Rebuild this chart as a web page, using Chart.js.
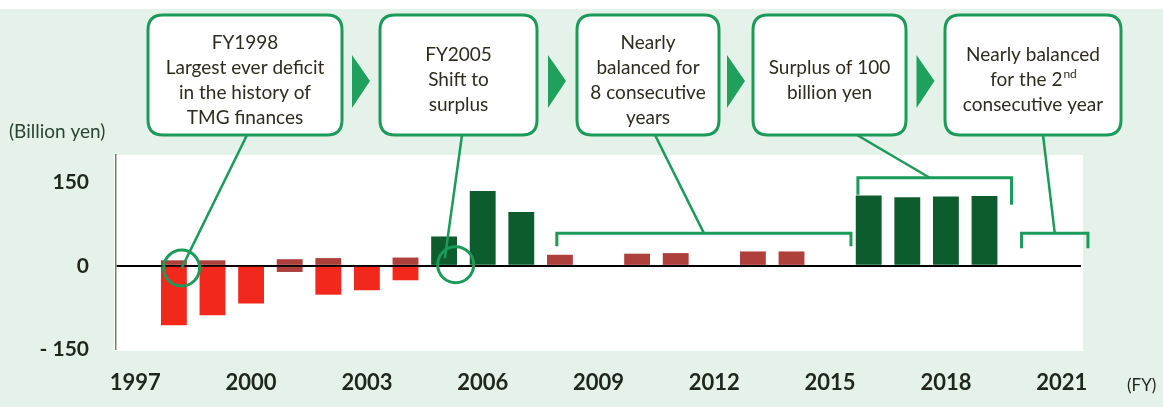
<!DOCTYPE html>
<html>
<head>
<meta charset="utf-8">
<script src="https://cdn.jsdelivr.net/npm/chart.js@4.4.0/dist/chart.umd.min.js"></script>
<style>
  html, body { margin: 0; padding: 0; background: #e4f2e9; }
  #wrap { width: 1163px; height: 407px; }
</style>
</head>
<body>
<div id="wrap"><canvas id="balanceChart" width="1163" height="407"></canvas></div>
<script>
// fiscal years shown on the x axis
const years = ['1997', '1998', '1999', '2000', '2001', '2002', '2003', '2004', '2005', '2006',
  '2007', '2008', '2009', '2010', '2011', '2012', '2013', '2014', '2015', '2016',
  '2017', '2018', '2019', '2020', '2021'];

// billion yen
const surplus = [null, null, null, null, null, null, null, null, 53, 135,
  97, null, null, null, null, null, null, null, null, 127,
  124, 125, 126, null, null];
const nearBalance = [null, 10, 10, null, 12, 14, null, 15, 0, 0,
  0, 20, 0, 22, 23, 0, 26, 26, 0, 0,
  0, 0, 0, 0, 0];
const deficit = [null, -107, -89, -68, -11, -52, -44, -26, null, null,
  null, null, null, null, null, null, null, null, null, null,
  null, null, null, null, null];

const yTicks = [-150, 0, 150];
const yMin = -150, yMax = 200;
const labelEvery = 3;

const GREEN = '#1b9a5a';
const DARK_GREEN = '#0c5c2e';
const RED = '#f2281d';
const DARK_RED = '#ad403a';
const INK = '#1e261e';
const BOX_INK = '#2e2b1f';

// callout boxes across the top, left to right
const callouts = [
  { left: 148, right: 342, lines: ['FY1998', 'Largest ever deficit', 'in the history of', 'TMG finances'] },
  { left: 380, right: 537, lines: ['FY2005', 'Shift to', 'surplus'] },
  { left: 577, right: 719, lines: ['Nearly', 'balanced for', '8 consecutive', 'years'] },
  { left: 753, right: 906, lines: ['Surplus of 100', 'billion yen'] },
  { left: 945, right: 1121, lines: ['Nearly balanced', ['for the 2', 'nd'], 'consecutive year'] }
];
const boxTop = 15, boxBottom = 135;

// circled points and brackets (category index, value)
const circles = [ { i: 1.2, v: -4 }, { i: 8.3, v: 2 } ];
const brackets = [
  { from: 10.92, to: 18.54, v: 59, dropL: 13, dropR: 13 },
  { from: 18.72, to: 22.70, v: 159, dropL: 17, dropR: 27 },
  { from: 22.96, to: 24.68, v: 59, dropL: 15, dropR: 15 }
];
// leader lines from each box to its circle / bracket
const leaders = [
  { x0: 247, to: { i: 1.2, v: -4 } },
  { x0: 462, to: { i: 8.02, v: 14 } },
  { x0: 655, bracket: 0 },
  { x0: 857, bracket: 1, at: 20.58 },
  { x0: 1043, bracket: 2 }
];

function roundRect(ctx, x, y, w, h, r) {
  ctx.beginPath();
  ctx.moveTo(x + r, y);
  ctx.lineTo(x + w - r, y);
  ctx.quadraticCurveTo(x + w, y, x + w, y + r);
  ctx.lineTo(x + w, y + h - r);
  ctx.quadraticCurveTo(x + w, y + h, x + w - r, y + h);
  ctx.lineTo(x + r, y + h);
  ctx.quadraticCurveTo(x, y + h, x, y + h - r);
  ctx.lineTo(x, y + r);
  ctx.quadraticCurveTo(x, y, x + r, y);
  ctx.closePath();
}

const annotations = {
  id: 'annotations',
  beforeDraw(chart) {
    const { ctx, chartArea: a } = chart;
    ctx.save();
    ctx.fillStyle = '#e4f2e9';
    ctx.fillRect(0, 0, chart.width, chart.height);
    ctx.fillStyle = '#ffffff';
    ctx.fillRect(0, 0, chart.width, 9);
    ctx.fillRect(a.left - 2, a.top, a.right - a.left + 4, a.bottom - a.top + 2);
    ctx.restore();
  },
  afterDraw(chart) {
    const { ctx } = chart;
    const xs = chart.scales.x, ys = chart.scales.y;
    const px = i => xs.getPixelForValue(i);
    const py = v => ys.getPixelForValue(v);
    ctx.save();

    // unit labels
    ctx.fillStyle = '#2c4434';
    ctx.font = '19px Lato';
    ctx.textAlign = 'left';
    ctx.textBaseline = 'middle';
    ctx.fillText('(Billion yen)', 9, 132);
    ctx.fillStyle = INK;
    ctx.font = '17px Lato';
    ctx.fillText('(FY)', 1127, 386);

    // circles
    ctx.strokeStyle = GREEN;
    ctx.lineWidth = 3;
    circles.forEach(c => {
      ctx.beginPath();
      ctx.arc(px(c.i), py(c.v), 18, 0, Math.PI * 2);
      ctx.stroke();
    });

    // brackets
    brackets.forEach(b => {
      const y = py(b.v);
      ctx.beginPath();
      ctx.moveTo(px(b.from), y + b.dropL);
      ctx.lineTo(px(b.from), y);
      ctx.lineTo(px(b.to), y);
      ctx.lineTo(px(b.to), y + b.dropR);
      ctx.stroke();
    });

    // leader lines
    ctx.lineWidth = 2.5;
    leaders.forEach(l => {
      let x1, y1;
      if (l.bracket !== undefined) {
        const b = brackets[l.bracket];
        x1 = px(l.at !== undefined ? l.at : (b.from + b.to) / 2);
        y1 = py(b.v);
      } else {
        x1 = px(l.to.i);
        y1 = py(l.to.v);
      }
      ctx.beginPath();
      ctx.moveTo(l.x0, boxBottom);
      ctx.lineTo(x1, y1);
      ctx.stroke();
    });

    // boxes and arrows
    callouts.forEach((c, k) => {
      roundRect(ctx, c.left, boxTop, c.right - c.left, boxBottom - boxTop, 15);
      ctx.fillStyle = '#ffffff';
      ctx.fill();
      ctx.lineWidth = 3;
      ctx.strokeStyle = GREEN;
      ctx.stroke();

      const cx = (c.left + c.right) / 2;
      const lh = 25;
      const y0 = 80 - (c.lines.length - 1) * lh / 2;
      ctx.fillStyle = BOX_INK;
      ctx.textBaseline = 'middle';
      c.lines.forEach((line, j) => {
        const y = y0 + j * lh;
        if (Array.isArray(line)) {
          ctx.font = '19px Lato';
          const w1 = ctx.measureText(line[0]).width;
          ctx.font = '12px Lato';
          const w2 = ctx.measureText(line[1]).width;
          const sx = cx - (w1 + w2) / 2;
          ctx.textAlign = 'left';
          ctx.font = '19px Lato';
          ctx.fillText(line[0], sx, y);
          ctx.font = '12px Lato';
          ctx.fillText(line[1], sx + w1 + 1, y - 6);
        } else {
          ctx.font = '19px Lato';
          ctx.textAlign = 'center';
          ctx.fillText(line, cx, y);
        }
      });

      const next = callouts[k + 1];
      if (next) {
        const mx = (c.right + next.left) / 2;
        ctx.beginPath();
        ctx.moveTo(mx - 9, 55);
        ctx.lineTo(mx + 9, 81);
        ctx.lineTo(mx - 9, 108);
        ctx.closePath();
        ctx.fillStyle = '#1fa05c';
        ctx.fill();
      }
    });
    ctx.restore();
  }
};

new Chart(document.getElementById('balanceChart'), {
  type: 'bar',
  data: {
    labels: years,
    datasets: [
      { label: 'Surplus', data: surplus, backgroundColor: DARK_GREEN },
      { label: 'Near balance', data: nearBalance, backgroundColor: DARK_RED },
      {
        label: 'Deficit', data: deficit,
        backgroundColor: c => (c.raw !== null && c.raw > -15 ? DARK_RED : RED)
      }
    ]
  },
  options: {
    responsive: false,
    maintainAspectRatio: false,
    animation: false,
    devicePixelRatio: 1,
    layout: { padding: { top: 155, right: 82, left: 0, bottom: 0 } },
    datasets: { bar: { barPercentage: 0.67, categoryPercentage: 1, borderWidth: 0 } },
    plugins: { legend: { display: false }, tooltip: { enabled: false } },
    scales: {
      x: {
        stacked: true,
        grid: { display: false, drawTicks: false },
        border: { display: false },
        afterFit: s => { s.height = 58; },
        ticks: {
          autoSkip: false,
          maxRotation: 0,
          padding: 21,
          color: INK,
          font: { family: 'Lato', size: 22, weight: 'bold' },
          callback: (v, i) => (i % labelEvery === 0 ? years[i] : '')
        }
      },
      y: {
        stacked: true,
        min: yMin,
        max: yMax,
        z: 1,
        afterFit: s => { s.width = 116; },
        afterBuildTicks: s => { s.ticks = yTicks.map(v => ({ value: v })); },
        border: { display: true, color: '#7a7a7a', width: 1.5 },
        grid: {
          drawTicks: false,
          color: c => (c.tick && c.tick.value === 0 ? '#000000' : 'rgba(0,0,0,0)'),
          lineWidth: 2
        },
        ticks: {
          padding: 27,
          color: INK,
          font: { family: 'Lato', size: 21, weight: 'bold' },
          callback: v => (v < 0 ? '- ' + Math.abs(v) : String(v))
        }
      }
    }
  },
  plugins: [annotations]
});
</script>
</body>
</html>
